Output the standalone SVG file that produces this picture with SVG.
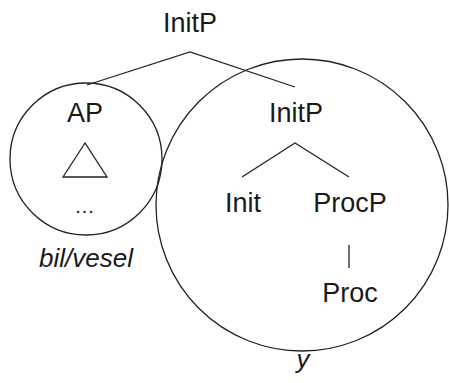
<svg xmlns="http://www.w3.org/2000/svg" width="449" height="383" viewBox="0 0 449 383">
<style>
text{font-family:"Liberation Sans",Arial,sans-serif;font-size:27px;fill:#1a1a1a;text-anchor:middle}
.it{font-style:italic;font-size:26px}
.ln{stroke:#222;stroke-width:1.3;fill:none}
</style>
<rect width="449" height="383" fill="#fff"/>
<g id="connectors">
<path class="ln" d="M87,85 L190,52 L295,87"/>
<path class="ln" d="M242,177 L295,143 L349,177"/>
<path class="ln" d="M349,245 L349,268"/>
</g>
<g id="circle-ap"><circle class="ln" cx="86" cy="159" r="76"/></g>
<g id="circle-y"><circle class="ln" cx="302" cy="205" r="146"/></g>
<g id="n-initp-top"><text x="190" y="32">InitP</text></g>
<g id="n-ap"><text x="85" y="122">AP</text>
<path class="ln" d="M85,143 L63,177 L107,177 Z"/>
<text x="85" y="213" style="font-size:20px;letter-spacing:1px">...</text></g>
<g id="n-bilvesel"><text class="it" x="86" y="267">bil/vesel</text></g>
<g id="n-initp"><text x="296" y="122">InitP</text></g>
<g id="n-init"><text x="243" y="212">Init</text></g>
<g id="n-procp"><text x="350" y="212">ProcP</text></g>
<g id="n-proc"><text x="350" y="302">Proc</text></g>
<g id="n-y"><text class="it" x="303" y="368">y</text></g>
</svg>
